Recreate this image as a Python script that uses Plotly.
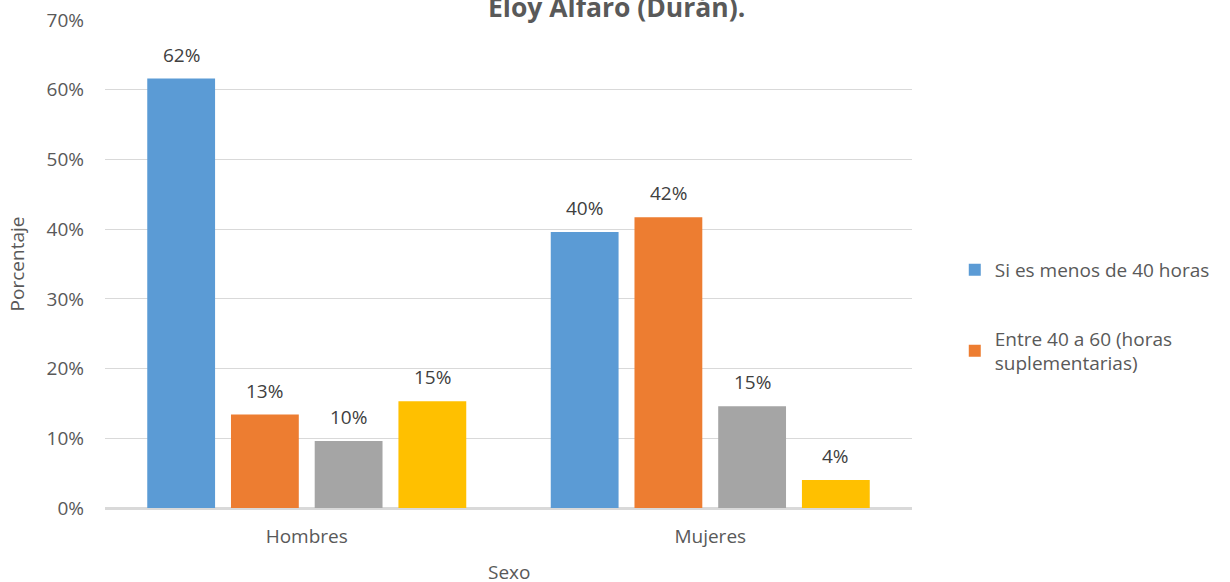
import plotly.graph_objects as go

categories = ["Hombres", "Mujeres"]
series_names = [
    "Si es menos de 40 horas",
    "Entre 40 a 60 (horas<br>suplementarias)",
    "Más de 60 horas",
    "No responde",
]
values = [
    [0.616, 0.396],   # Si es menos de 40 horas
    [0.134, 0.417],   # Entre 40 a 60
    [0.096, 0.146],   # Más de 60 horas
    [0.153, 0.040],   # No responde
]
show_in_legend = [True, True, False, False]
colors = ["#5b9bd5", "#ed7d31", "#a5a5a5", "#ffc000"]

FONT = "Open Sans, Noto Sans, sans-serif"
TXT = "#595959"
FS = 19

BARGAP = 0.17
fig = go.Figure()
for i, name in enumerate(series_names):
    fig.add_trace(go.Bar(
        x=categories, y=values[i], name=name,
        marker=dict(color=colors[i], line=dict(width=0)),
        showlegend=show_in_legend[i], legendgroup=f"g{i}",
    ))

# data labels above the bars
n = len(series_names)
slot = (1 - BARGAP) / n
for i in range(n):
    for j, cat in enumerate(categories):
        xc = j - (1 - BARGAP) / 2 + (i + 0.5) * slot
        fig.add_annotation(x=xc, y=values[i][j], xref="x", yref="y",
                           text=f"{round(values[i][j]*100):d}%", showarrow=False,
                           yanchor="bottom", yshift=9,
                           font=dict(family=FONT, size=FS, color="#404040"))

fig.add_annotation(text="<b>Eloy Alfaro (Durán).</b>", xref="paper", yref="paper",
                   x=0.634, y=1, yanchor="bottom", yshift=-7, showarrow=False,
                   font=dict(family=FONT, size=26.5, color=TXT))

# x-axis title
fig.add_annotation(text="Sexo", xref="paper", yref="paper", x=0.5, y=0,
                   yanchor="top", yshift=-49, showarrow=False,
                   font=dict(family=FONT, size=FS, color=TXT))

fig.update_layout(
    width=1230, height=582,
    margin=dict(l=105, r=318, t=20, b=74),
    paper_bgcolor="white", plot_bgcolor="white",
    barmode="group", bargap=BARGAP, bargroupgap=0.19,
    font=dict(family=FONT, size=FS, color=TXT),
    legend=dict(x=1.053, xanchor="left", y=0.527, yanchor="top",
                traceorder="grouped", tracegroupgap=41,
                font=dict(family=FONT, size=FS, color=TXT)),
)
fig.update_yaxes(range=[0, 0.7], dtick=0.1, tickformat=".0%", automargin=False,
                 gridcolor="#d9d9d9", gridwidth=1, zeroline=True,
                 zerolinecolor="#d9d9d9", zerolinewidth=1.5, showline=False,
                 ticks="", ticklabelstandoff=20,
                 title=dict(text="Porcentaje", standoff=16,
                            font=dict(family=FONT, size=FS, color=TXT)),
                 tickfont=dict(family=FONT, size=FS, color=TXT))
fig.update_xaxes(showline=True, linecolor="#d9d9d9", linewidth=1.5, ticks="",
                 automargin=False, ticklabelstandoff=10,
                 tickfont=dict(family=FONT, size=FS, color=TXT))

fig.write_html("out.html", config={"displayModeBar": False},
               post_script="document.body.style.margin='0';")
